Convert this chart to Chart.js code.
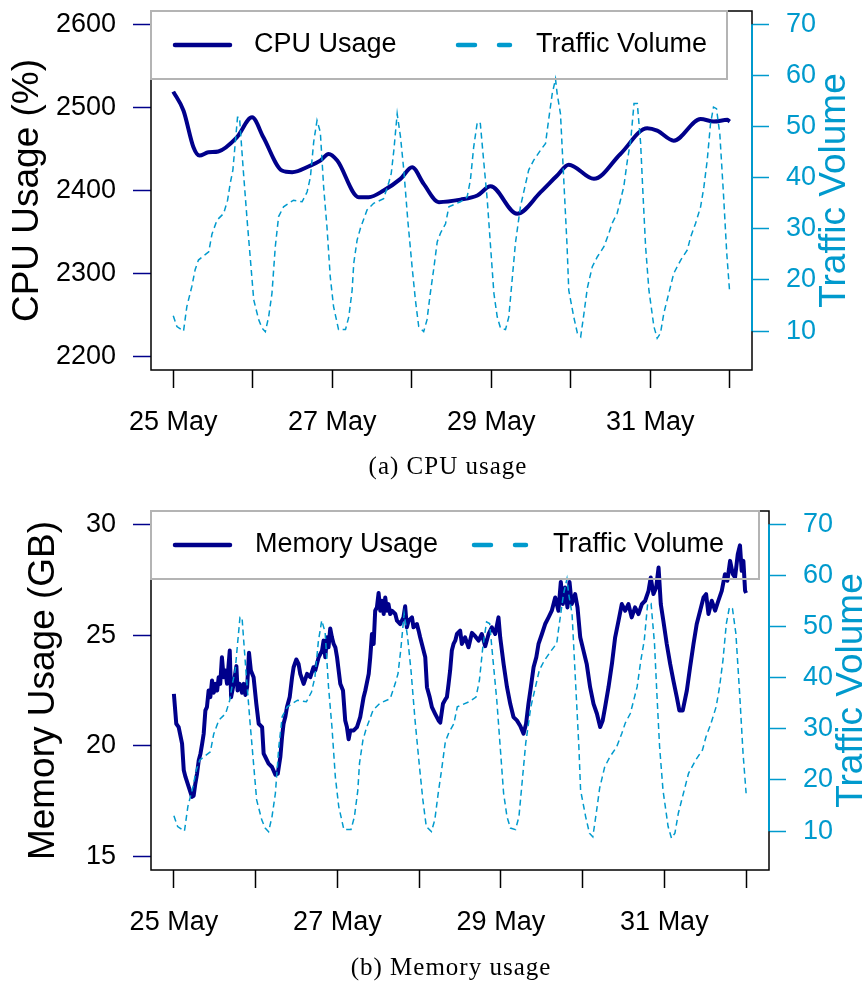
<!DOCTYPE html>
<html>
<head>
<meta charset="utf-8">
<script src="https://cdn.jsdelivr.net/npm/chart.js@4.4.1/dist/chart.umd.min.js"></script>
<style>
  body { margin: 0; background: #fff; }
  #page { position: relative; width: 866px; height: 981px; overflow: hidden; }
  #page canvas { position: absolute; left: 0; }
  #cpu { top: 0; }
  #mem { top: 490px; }
  .cap {
    position: absolute; width: 866px; text-align: center;
    font-family: "Liberation Serif", "Times New Roman", serif;
    font-size: 25px; line-height: 30px; letter-spacing: 1px; color: #000;
  }
</style>
</head>
<body>
<div id="page">
  <canvas id="cpu" width="866" height="490"></canvas>
  <canvas id="mem" width="866" height="491"></canvas>
  <div class="cap" style="top:451px; left:15px;">(a) CPU usage</div>
  <div class="cap" style="top:952px; left:18px;">(b) Memory usage</div>
</div>
<script>
// x axis: hours since 25 May 00:00, one tick per day
const dayHours = [0, 24, 48, 72, 96, 120, 144, 168];
const dayLabels = ["25 May", "", "27 May", "", "29 May", "", "31 May", ""];

const cpuTicks = [2200, 2300, 2400, 2500, 2600];
const memTicks = [15, 20, 25, 30];
const trafficTicks = [10, 20, 30, 40, 50, 60, 70];

// CPU usage (%)
const cpuHours = [0, 3.1, 6.1, 7.9, 10.6, 13.6, 19.2, 23.8, 27.2, 32.8, 35.9, 41.4, 44.4, 46.9, 49.5,
  56.0, 59.0, 63.5, 68.6, 72.1, 75.6, 80.2, 86.7, 91.8, 95.8, 103.8, 110.9, 115.9, 119.4, 127.0,
  135.0, 143.1, 146.1, 151.1, 159.2, 163.2, 167.3, 168];
const cpuUsage = [2519, 2496, 2452, 2442, 2446, 2447, 2464, 2488, 2464, 2424, 2422, 2430, 2436, 2444, 2436,
  2392, 2392, 2400, 2414, 2428, 2408, 2386, 2389, 2394, 2405, 2372, 2398, 2418, 2431, 2414,
  2444, 2475, 2472, 2460, 2486, 2483, 2485, 2483];

// memory usage (GB)
const memHours = [
  0, 0.7, 1.4, 2.4, 2.9, 3.4, 4.35, 5.3, 5.8, 6.3,
  6.8, 7.3, 7.8, 8.3, 8.75, 9.25, 9.7, 10.2, 10.7, 11.2,
  11.7, 12.2, 12.7, 13.15, 13.6, 14.1, 14.6, 15.1, 15.6, 16.4,
  16.8, 17.55, 18.35, 18.7, 19.3, 20.0, 20.5, 21.0, 21.5, 22.05,
  22.6, 23.4, 24.2, 24.9, 25.9, 26.35, 26.85, 27.8, 28.8, 29.8,
  30.5, 31.25, 31.75, 32.2, 32.7, 33.2, 34.0, 34.7, 35.15, 35.95,
  36.6, 37.1, 38.1, 39.1, 40.05, 41.0, 41.5, 42.5, 43.5, 43.95,
  44.45, 44.95, 45.4, 45.9, 46.4, 46.9, 47.4, 47.9, 48.85, 49.65,
  50.3, 50.8, 51.3, 51.8, 52.8, 53.75, 54.7, 55.2, 55.7, 56.2,
  57.2, 57.65, 58.15, 58.65, 59.1, 59.6, 60.1, 60.6, 61.1, 61.6,
  62.05, 62.55, 63.0, 63.5, 64.0, 65.0, 65.5, 66.45, 67.4, 67.9,
  68.4, 68.9, 69.9, 70.35, 71.35, 71.85, 72.3, 73.3, 73.8, 74.3,
  75.1, 75.75, 76.7, 77.7, 78.2, 79.0, 79.7, 80.15, 80.65, 81.1,
  81.6, 82.1, 82.6, 83.1, 84.05, 84.55, 85.5, 86.5, 87.5, 88.45,
  89.45, 90.4, 91.4, 92.4, 93.35, 94.35, 95.3, 95.8, 96.8, 97.8,
  98.75, 99.7, 100.7, 101.7, 102.65, 103.4, 104.1, 104.8, 105.6, 106.4,
  107.05, 108.05, 109.0, 110.0, 110.95, 111.95, 112.9, 113.6, 114.2, 114.85,
  115.55, 116.15, 116.8, 117.8, 118.5, 119.3, 120.25, 121.2, 122.2, 123.2,
  124.2, 125.15, 125.9, 126.6, 127.6, 128.6, 129.55, 130.55, 131.5, 132.5,
  133.45, 134.4, 135.4, 136.4, 137.4, 138.35, 139.35, 140.0, 140.8, 141.6,
  142.3, 142.95, 143.7, 144.7, 145.7, 146.65, 147.65, 148.4, 149.4, 150.6,
  151.55, 152.55, 153.5, 154.5, 155.5, 156.25, 156.95, 157.9, 158.9, 159.85,
  160.85, 161.8, 162.5, 163.3, 164.1, 164.75, 165.55, 166.2, 166.7, 167.2,
  167.7, 168.0];
const memUsage = [
  22.35, 21.0, 20.85, 20.1, 18.9, 18.6, 18.15, 17.7, 17.75, 18.3,
  18.75, 19.35, 19.65, 20.1, 20.55, 21.6, 21.75, 22.5, 22.2, 22.95,
  22.4, 22.8, 22.5, 23.1, 22.8, 24.0, 23.1, 23.4, 22.8, 24.3,
  22.2, 22.8, 23.6, 22.5, 22.8, 22.4, 22.8, 22.3, 22.65, 24.2,
  23.4, 23.1, 21.9, 21.0, 20.85, 19.65, 19.5, 19.2, 19.05, 18.7,
  18.75, 19.5, 20.4, 21.0, 21.3, 21.75, 22.2, 23.1, 23.55, 23.9,
  23.7, 23.25, 22.8, 23.25, 23.1, 23.55, 23.4, 24.0, 24.3, 24.75,
  24.0, 24.9, 24.45, 25.3, 24.9, 24.6, 24.45, 24.0, 22.8, 22.5,
  21.15, 20.85, 20.3, 20.7, 20.7, 20.85, 21.3, 21.75, 22.2, 22.5,
  23.25, 24.0, 25.05, 24.6, 26.1, 26.25, 26.9, 26.1, 26.55, 25.95,
  26.7, 26.1, 26.4, 25.95, 26.1, 25.95, 25.65, 25.5, 25.8, 26.3,
  25.35, 25.65, 25.8, 25.35, 25.5, 25.2, 24.9, 24.3, 24.0, 22.65,
  22.2, 21.75, 21.45, 21.15, 21.05, 21.9, 22.1, 22.2, 22.8, 23.4,
  24.3, 24.6, 24.75, 25.05, 25.2, 24.6, 24.9, 24.45, 25.1, 24.95,
  24.75, 25.05, 24.5, 25.05, 25.35, 25.05, 25.8, 24.9, 23.7, 22.65,
  21.9, 21.3, 21.15, 20.9, 20.55, 21.0, 21.9, 22.65, 23.55, 24.0,
  24.6, 25.05, 25.5, 25.8, 26.1, 26.7, 26.1, 27.4, 26.4, 27.15,
  26.25, 27.4, 26.4, 26.85, 26.25, 24.9, 24.3, 23.7, 22.65, 21.9,
  21.45, 20.85, 21.15, 21.75, 22.65, 23.7, 24.9, 25.65, 26.4, 26.1,
  26.4, 25.8, 26.25, 25.95, 26.4, 26.55, 27.0, 27.6, 26.85, 27.15,
  28.05, 26.4, 25.65, 24.6, 23.7, 22.95, 22.2, 21.6, 21.6, 22.5,
  23.55, 24.6, 25.5, 26.1, 26.7, 26.85, 25.95, 26.55, 26.1, 26.55,
  27.0, 27.75, 27.45, 28.35, 27.75, 27.6, 28.65, 29.05, 27.9, 28.35,
  27.0, 26.9];

// traffic volume, shared by both panels
const trafficHours = [0, 1.1, 3.1, 4.1, 5.6, 6.6, 7.6, 10.7, 11.7, 13.2,
  15.2, 16.4, 17.2, 18.0, 18.7, 19.4, 20.0, 21.1, 22.3, 23.3,
  24.3, 25.8, 26.8, 27.8, 28.8, 29.8, 30.8, 31.8, 33.3, 36.3,
  38.9, 40.4, 41.4, 42.4, 43.4, 44.4, 45.4, 46.4, 47.4, 48.4,
  49.9, 52.0, 53.0, 54.0, 54.5, 55.5, 56.5, 58.5, 60.5, 63.5,
  65.0, 65.8, 66.6, 67.6, 68.6, 69.6, 70.8, 72.1, 73.1, 74.1,
  75.6, 76.6, 77.6, 78.6, 79.7, 80.7, 82.2, 83.2, 86.7, 88.7,
  89.7, 90.7, 91.8, 92.7, 93.7, 94.8, 95.8, 96.8, 97.8, 98.8,
  100.3, 101.3, 102.3, 103.3, 104.8, 107.3, 108.8, 110.9, 112.4, 112.9,
  114.4, 115.4, 115.9, 116.9, 117.9, 118.9, 119.4, 120.9, 122.0, 123.0,
  124.0, 125.0, 126.5, 128.0, 130.0, 131.5, 132.5, 134.0, 135.0, 136.0,
  137.1, 138.1, 139.1, 140.1, 141.1, 141.8, 142.6, 143.6, 145.1, 146.1,
  147.1, 148.1, 149.6, 151.1, 153.2, 155.2, 156.2, 157.7, 159.2, 160.2,
  161.2, 162.2, 163.1, 164.0, 165.0, 166.1, 167.1, 168.0];
const trafficVolume = [13.0, 10.9, 10.0, 14.8, 18.7, 22.0, 23.9, 25.5, 29.0, 31.7,
  33.0, 35.6, 38.9, 41.5, 46.7, 51.8, 51.8, 41.8, 31.7, 23.9,
  16.1, 12.2, 10.6, 9.9, 12.8, 17.4, 26.5, 32.4, 34.3, 35.6,
  35.3, 37.2, 40.1, 47.0, 51.2, 48.9, 38.2, 30.4, 20.6, 14.8,
  10.3, 10.3, 12.8, 18.0, 23.3, 27.8, 30.1, 33.7, 35.0, 35.9,
  38.9, 40.8, 45.4, 52.5, 48.0, 41.5, 31.7, 22.6, 16.1, 10.9,
  9.9, 12.2, 17.4, 22.0, 27.5, 29.2, 31.0, 34.3, 35.3, 36.2,
  39.5, 46.0, 50.9, 50.6, 43.4, 35.6, 26.5, 17.4, 12.8, 10.6,
  10.3, 12.8, 20.0, 27.2, 34.3, 41.5, 43.4, 45.4, 46.7, 49.3,
  56.4, 59.3, 56.4, 52.5, 39.5, 26.5, 18.0, 12.8, 9.6, 8.9,
  13.5, 18.4, 22.6, 24.5, 26.5, 29.1, 31.1, 33.0, 35.6, 38.2,
  43.4, 47.3, 54.5, 54.5, 46.7, 36.9, 26.5, 18.0, 10.9, 8.6,
  9.6, 13.5, 17.4, 21.3, 23.9, 25.9, 28.4, 31.1, 34.3, 38.2,
  43.4, 50.6, 53.8, 53.5, 48.6, 36.9, 25.2, 17.4];

const NAVY = "#00008B";
const TEAL = "#009ACD";
const FONT = "'Liberation Sans', Arial, sans-serif";

Chart.defaults.font.family = FONT;
Chart.defaults.color = "#000";

const toPoints = (xs, ys) => xs.map((x, i) => ({ x, y: ys[i] }));
const setTicks = (values) => (scale) => {
  scale.ticks = values.map((value) => ({ value }));
};
const noPadding = (scale) => {
  scale.paddingTop = scale.paddingBottom = scale.paddingLeft = scale.paddingRight = 0;
};
const plain = (v) => String(v);

// frame, right axis line, legend and right-hand title
const decorations = {
  id: "decorations",
  beforeDatasetsDraw(chart) {
    const { ctx, chartArea: a } = chart;
    ctx.save();
    ctx.strokeStyle = "#000";
    ctx.lineWidth = 1.5;
    ctx.strokeRect(a.left, a.top, a.right - a.left, a.bottom - a.top);
    ctx.restore();
  },
  afterDatasetsDraw(chart, args, o) {
    const { ctx, chartArea: a, scales } = chart;
    ctx.save();

    ctx.strokeStyle = TEAL;
    ctx.lineWidth = 2;
    ctx.beginPath();
    ctx.moveTo(a.right, scales.y1.getPixelForValue(trafficTicks[0]));
    ctx.lineTo(a.right, scales.y1.getPixelForValue(trafficTicks[trafficTicks.length - 1]));
    ctx.stroke();

    // legend box sits in the top-left corner of the plot
    const lg = o.legend;
    ctx.strokeStyle = "#b4b4b4";
    ctx.lineWidth = 2;
    ctx.strokeRect(a.left, a.top, lg.right - a.left, lg.bottom - a.top);

    ctx.lineCap = "round";
    ctx.lineWidth = 4.5;
    ctx.strokeStyle = NAVY;
    ctx.beginPath();
    ctx.moveTo(175, lg.y);
    ctx.lineTo(230, lg.y);
    ctx.stroke();

    ctx.strokeStyle = TEAL;
    ctx.setLineDash([17, 24]);
    ctx.beginPath();
    ctx.moveTo(lg.dashFrom, lg.y);
    ctx.lineTo(lg.dashFrom + 52, lg.y);
    ctx.stroke();
    ctx.setLineDash([]);

    ctx.fillStyle = "#000";
    ctx.font = "27px " + FONT;
    ctx.textAlign = "left";
    ctx.textBaseline = "middle";
    ctx.fillText(o.mainLabel, lg.mainText, lg.y);
    ctx.fillText("Traffic Volume", lg.trafficText, lg.y);

    ctx.translate(o.rightTitleX, (a.top + a.bottom) / 2);
    ctx.rotate(-Math.PI / 2);
    ctx.fillStyle = TEAL;
    ctx.font = "37px " + FONT;
    ctx.textAlign = "center";
    ctx.fillText("Traffic Volume", 0, 0);
    ctx.restore();
  },
};

function usageChart(id, p) {
  const canvas = document.getElementById(id);
  const W = canvas.width;
  const H = canvas.height;

  return new Chart(canvas, {
    type: "line",
    data: {
      datasets: [
        {
          label: p.mainLabel,
          data: toPoints(p.hours, p.values),
          yAxisID: "y",
          borderColor: NAVY,
          borderWidth: 4,
          borderJoinStyle: "round",
          pointRadius: 0,
          cubicInterpolationMode: p.smooth ? "monotone" : "default",
          tension: p.smooth ? 0.4 : 0,
          order: 1,
        },
        {
          label: "Traffic Volume",
          data: toPoints(trafficHours, trafficVolume),
          yAxisID: "y1",
          borderColor: TEAL,
          borderWidth: 1.5,
          borderDash: [6, 4],
          pointRadius: 0,
          tension: 0,
          order: 0,
        },
      ],
    },
    options: {
      responsive: false,
      animation: false,
      events: [],
      layout: { padding: { top: p.box.top, left: 0, right: 0, bottom: 0 } },
      scales: {
        x: {
          type: "linear",
          min: -6.72,
          max: 174.72,
          afterBuildTicks: setTicks(dayHours),
          afterFit(scale) {
            scale.height = H - p.box.bottom;
            noPadding(scale);
          },
          ticks: {
            autoSkip: false,
            maxRotation: 0,
            padding: 18,
            font: { size: 27 },
            color: "#000",
            callback: (v, i) => dayLabels[i],
          },
          grid: { drawOnChartArea: false, tickLength: 18, tickColor: "#000", tickWidth: 1.5 },
          border: { display: false },
        },
        y: {
          position: "left",
          min: p.yMin,
          max: p.yMax,
          afterBuildTicks: setTicks(p.yTicks),
          afterFit(scale) {
            scale.width = p.box.left;
            noPadding(scale);
          },
          ticks: { padding: 17, font: { size: 27 }, color: "#000", callback: plain },
          grid: { drawOnChartArea: false, tickLength: 18, tickColor: NAVY, tickWidth: 1.5 },
          border: { display: false },
          title: {
            display: true,
            text: p.yTitle,
            color: "#000",
            font: { size: 37 },
            padding: { top: p.titlePad, bottom: 0 },
          },
        },
        y1: {
          position: "right",
          min: 2.4,
          max: 72.6,
          afterBuildTicks: setTicks(trafficTicks),
          afterFit(scale) {
            scale.width = W - p.box.right;
            noPadding(scale);
          },
          ticks: { padding: 17, font: { size: 27 }, color: TEAL, callback: plain },
          grid: { drawOnChartArea: false, tickLength: 17, tickColor: TEAL, tickWidth: 1.5 },
          border: { display: false },
        },
      },
      plugins: {
        legend: { display: false },
        tooltip: { enabled: false },
        decorations: {
          mainLabel: p.mainLabel,
          legend: p.legend,
          rightTitleX: p.rightTitleX,
        },
      },
    },
    plugins: [decorations],
  });
}

usageChart("cpu", {
  hours: cpuHours,
  values: cpuUsage,
  smooth: true,
  mainLabel: "CPU Usage",
  yTitle: "CPU Usage (%)",
  yTicks: cpuTicks,
  yMin: 2184,
  yMax: 2616,
  titlePad: 6,
  box: { left: 151, right: 752, top: 11, bottom: 370 },
  legend: { right: 727, bottom: 79, y: 45, mainText: 254, dashFrom: 458, trafficText: 536 },
  rightTitleX: 835,
});

usageChart("mem", {
  hours: memHours,
  values: memUsage,
  smooth: false,
  mainLabel: "Memory Usage",
  yTitle: "Memory Usage (GB)",
  yTicks: memTicks,
  yMin: 14.4,
  yMax: 30.6,
  titlePad: 22,
  box: { left: 151, right: 769, top: 21, bottom: 380 },
  legend: { right: 759, bottom: 89, y: 55, mainText: 255, dashFrom: 474, trafficText: 553 },
  rightTitleX: 852,
});
</script>
</body>
</html>
